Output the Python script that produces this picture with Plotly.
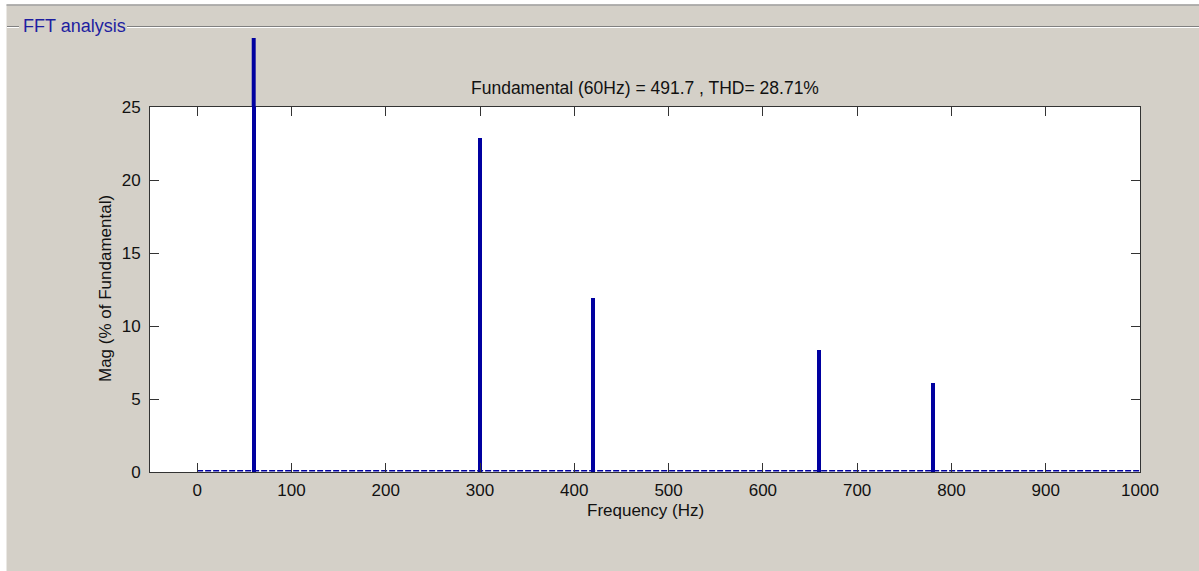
import plotly.graph_objects as go

# ---- data ----
harmonic_freqs = [60, 300, 420, 660, 780]          # Hz
harmonic_mags = [100.0, 22.85, 11.9, 8.35, 6.1]     # % of fundamental (fundamental clipped in view)
base_freqs = [0, 1000]
base_mags = [0.08, 0.08]
x_ticks = [0, 100, 200, 300, 400, 500, 600, 700, 800, 900, 1000]
y_ticks = [0, 5, 10, 15, 20, 25]
x_range = [-50, 1000]
y_range = [0, 25]
title_text = "Fundamental (60Hz) = 491.7 , THD= 28.71%"
panel_text = "FFT analysis"

BG = "#d4d0c8"
BLUE = "#0000a0"
FONT = "Liberation Sans, Arial, sans-serif"
FS = 17
BAR_W = 4.2

W, H = 1199, 571
L, R, T, B = 150, 1140, 107, 472   # plot area pixels


def px(p):
    return (p - L) / (R - L)


def py(p):
    return (B - p) / (B - T)


fig = go.Figure()
fig.add_trace(go.Scatter(
    x=base_freqs, y=base_mags, mode="lines",
    line=dict(color=BLUE, width=1.5, dash="6px,2px"),
    hoverinfo="skip", showlegend=False))
fig.add_trace(go.Bar(
    x=harmonic_freqs, y=harmonic_mags, width=BAR_W,
    marker=dict(color=BLUE, line=dict(width=0)),
    showlegend=False))

shapes = []
# bars that exceed the axes are drawn beyond the frame (as in MATLAB, no clipping)
for f, m in zip(harmonic_freqs, harmonic_mags):
    if m > y_range[1]:
        shapes.append(dict(type="rect", xref="x", yref="paper",
                           x0=f - BAR_W / 2, x1=f + BAR_W / 2,
                           y0=1, y1=m / y_range[1],
                           fillcolor=BLUE, line=dict(width=0), layer="above"))

shapes += [
    # cover region above the visible part of the fundamental bar
    dict(type="rect", xref="paper", yref="paper", x0=px(-5), x1=px(1210),
         y0=py(38), y1=py(-5), fillcolor=BG, line=dict(width=0), layer="above"),
    # white strips (window edges)
    dict(type="rect", xref="paper", yref="paper", x0=px(-5), x1=px(1210),
         y0=py(4.5), y1=py(-5), fillcolor="white", line=dict(width=0), layer="above"),
    dict(type="rect", xref="paper", yref="paper", x0=px(-5), x1=px(6.5),
         y0=py(580), y1=py(-5), fillcolor="white", line=dict(width=0), layer="above"),
    dict(type="line", xref="paper", yref="paper", x0=px(6.5), x1=px(1210),
         y0=py(5), y1=py(5), line=dict(color="#a0a0a0", width=1.5), layer="above"),
    # panel frame line (etched) split around label
    dict(type="line", xref="paper", yref="paper", x0=px(7), x1=px(19),
         y0=py(26.5), y1=py(26.5), line=dict(color="#808080", width=1), layer="above"),
    dict(type="line", xref="paper", yref="paper", x0=px(7), x1=px(19),
         y0=py(27.5), y1=py(27.5), line=dict(color="#ffffff", width=1), layer="above"),
    dict(type="line", xref="paper", yref="paper", x0=px(127), x1=px(1210),
         y0=py(26.5), y1=py(26.5), line=dict(color="#808080", width=1), layer="above"),
    dict(type="line", xref="paper", yref="paper", x0=px(127), x1=px(1210),
         y0=py(27.5), y1=py(27.5), line=dict(color="#ffffff", width=1), layer="above"),
]

annotations = [
    dict(text=panel_text, xref="paper", yref="paper", x=px(21), y=py(26),
         xanchor="left", yanchor="middle", showarrow=False,
         font=dict(family=FONT, size=18, color="#1e1ea0")),
    dict(text=title_text, xref="paper", yref="paper", x=0.5, y=py(88),
         xanchor="center", yanchor="middle", showarrow=False,
         font=dict(family=FONT, size=17.5, color="#111111")),
    dict(text="Frequency (Hz)", xref="paper", yref="paper", x=0.5, y=py(511),
         xanchor="center", yanchor="middle", showarrow=False,
         font=dict(family=FONT, size=FS, color="#111111")),
    dict(text="Mag (% of Fundamental)", xref="paper", yref="paper", x=px(105), y=py(289),
         xanchor="center", yanchor="middle", showarrow=False, textangle=-90,
         font=dict(family=FONT, size=FS, color="#111111")),
]

fig.update_layout(
    width=W, height=H, autosize=False,
    margin=dict(l=L, r=W - R, t=T, b=H - B, pad=0),
    paper_bgcolor=BG, plot_bgcolor="white",
    font=dict(family=FONT, size=FS, color="#111111"),
    shapes=shapes, annotations=annotations,
    bargap=0, showlegend=False,
)
fig.update_xaxes(
    range=x_range, tickvals=x_ticks, ticktext=[str(v) for v in x_ticks],
    ticks="inside", ticklen=9, tickcolor="#333333", tickwidth=1,
    showline=True, linecolor="#333333", linewidth=1, mirror="ticks",
    showgrid=False, zeroline=False, tickfont=dict(size=FS, color="#111111"),
    ticklabelstandoff=3,
)
fig.update_yaxes(
    range=y_range, tickvals=y_ticks, ticktext=[str(v) for v in y_ticks],
    ticks="inside", ticklen=9, tickcolor="#333333", tickwidth=1,
    showline=True, linecolor="#333333", linewidth=1, mirror="ticks",
    showgrid=False, zeroline=False, tickfont=dict(size=FS, color="#111111"),
    ticklabelstandoff=5,
)

fig.write_html(
    "out.html",
    config={"displayModeBar": False},
    post_script="document.body.style.margin='0';document.body.style.overflow='hidden';",
)
